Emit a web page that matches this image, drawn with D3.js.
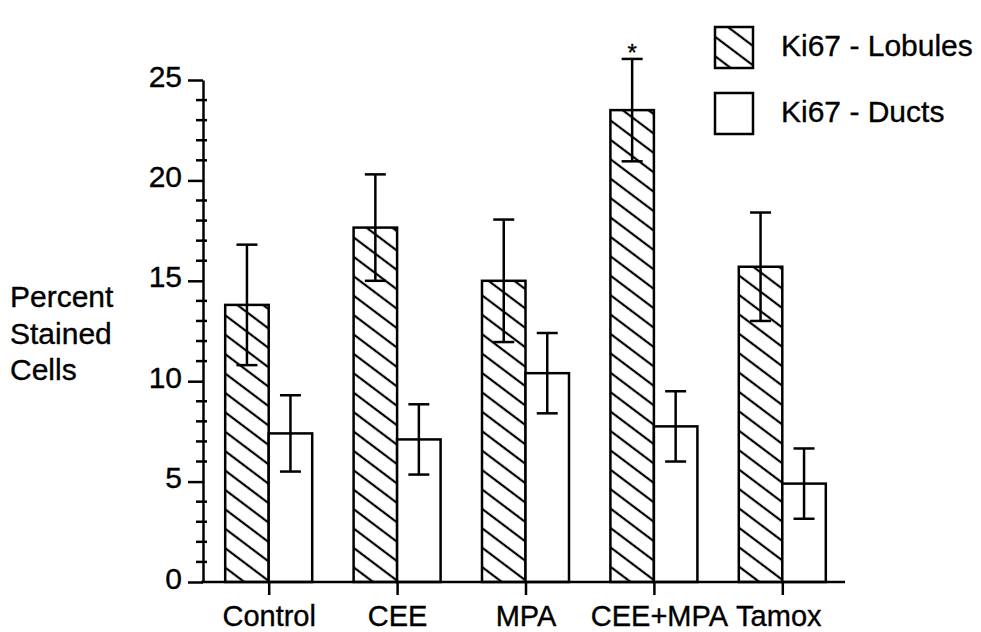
<!DOCTYPE html>
<html>
<head>
<meta charset="utf-8">
<script src="https://cdn.jsdelivr.net/npm/d3@7"></script>
<style>
  html, body { margin: 0; padding: 0; background: #fff; }
  svg { display: block; }
  text { font-family: "Liberation Sans", Arial, Helvetica, sans-serif; fill: #000; stroke: #000; stroke-width: 0.35px; }
</style>
</head>
<body>
<svg id="chart" width="981" height="632"></svg>
<script>
// ---- data ----
const categories = ["Control", "CEE", "MPA", "CEE+MPA", "Tamox"];
const series = ["Ki67 - Lobules", "Ki67 - Ducts"];
const lobules = [13.8, 17.65, 15.0, 23.5, 15.7];
const lobulesErr = [3.0, 2.65, 3.05, 2.55, 2.7];
const ducts = [7.4, 7.1, 10.4, 7.75, 4.9];
const ductsErr = [1.9, 1.75, 2.0, 1.75, 1.75];
const yTicks = [0, 5, 10, 15, 20, 25];
const significant = [false, false, false, true, false];

const svg = d3.select("#chart");
const ink = "#000";

// ---- scales ----
const x = d3.scaleBand().domain(categories).range([205, 847]).padding(0);
const xSub = d3.scaleBand().domain(series).range([-44, 43]).padding(0);
const y = d3.scaleLinear().domain([0, 25]).range([582, 80]);

// ---- hatch pattern ----
const defs = svg.append("defs");
const pat = defs.append("pattern")
  .attr("id", "hatch")
  .attr("patternUnits", "userSpaceOnUse")
  .attr("width", 10).attr("height", 15.5)
  .attr("patternTransform", "rotate(37)");
pat.append("rect").attr("width", 10).attr("height", 15.5).attr("fill", "#fff");
pat.append("line").attr("x1", 0).attr("x2", 10).attr("y1", 7.75).attr("y2", 7.75)
  .attr("stroke", ink).attr("stroke-width", 2.2);

const fills = ["url(#hatch)", "#fff"];
const values = [lobules, ducts];
const errs = [lobulesErr, ductsErr];

// ---- bars ----
const data = [];
categories.forEach((c, i) => {
  series.forEach((s, j) => {
    data.push({ c, s, j, v: values[j][i], e: errs[j][i], sig: significant[i] && j === 0 });
  });
});

const g = svg.append("g");
g.selectAll("rect.bar").data(data).enter().append("rect")
  .attr("class", "bar")
  .attr("x", d => x(d.c) + x.bandwidth() / 2 + xSub(d.s))
  .attr("y", d => y(d.v))
  .attr("width", xSub.bandwidth())
  .attr("height", d => y(0) - y(d.v))
  .attr("fill", d => fills[d.j])
  .attr("stroke", ink).attr("stroke-width", 2.5);

// ---- error bars ----
const cx = d => x(d.c) + x.bandwidth() / 2 + xSub(d.s) + xSub.bandwidth() / 2;
const eg = g.selectAll("g.err").data(data).enter().append("g").attr("class", "err")
  .attr("stroke", ink).attr("stroke-width", 2.5);
eg.append("line").attr("x1", cx).attr("x2", cx)
  .attr("y1", d => y(d.v + d.e)).attr("y2", d => y(d.v - d.e));
eg.append("line").attr("x1", d => cx(d) - 10.5).attr("x2", d => cx(d) + 10.5)
  .attr("y1", d => y(d.v + d.e)).attr("y2", d => y(d.v + d.e));
eg.append("line").attr("x1", d => cx(d) - 10.5).attr("x2", d => cx(d) + 10.5)
  .attr("y1", d => y(d.v - d.e)).attr("y2", d => y(d.v - d.e));

// significance asterisk
g.selectAll("text.sig").data(data.filter(d => d.sig)).enter().append("text")
  .attr("class", "sig")
  .attr("x", cx).attr("y", d => y(d.v + d.e) + 2)
  .attr("text-anchor", "middle")
  .style("font-size", "24px")
  .text("*");

// ---- y axis ----
const yAxisX = 203;
const ya = svg.append("g").attr("transform", `translate(${yAxisX},0)`);
ya.call(d3.axisLeft(y).tickValues(yTicks).tickSize(15).tickSizeOuter(0).tickPadding(6).tickFormat(d3.format("d")));
ya.select(".domain").attr("stroke", ink).attr("stroke-width", 2.5);
ya.selectAll(".tick line").attr("stroke", ink).attr("stroke-width", 2.5);
ya.selectAll(".tick text").style("font-size", "30px").attr("dy", "0.2em")
  .style("font-family", "'Liberation Sans', Arial, sans-serif");
// minor ticks
const minor = d3.range(0, 26).filter(v => v % 5 !== 0);
ya.selectAll("line.minor").data(minor).enter().append("line")
  .attr("class", "minor")
  .attr("x1", -7).attr("x2", 4)
  .attr("y1", d => y(d)).attr("y2", d => y(d))
  .attr("stroke", ink).attr("stroke-width", 2.5);

// ---- x axis ----
const xa = svg.append("g").attr("transform", `translate(0,${y(0)})`);
xa.append("line").attr("x1", yAxisX - 2).attr("x2", 845).attr("y1", 0).attr("y2", 0)
  .attr("stroke", ink).attr("stroke-width", 2.5);
const xt = xa.selectAll("g.xt").data(categories).enter().append("g").attr("class", "xt")
  .attr("transform", d => `translate(${x(d) + x.bandwidth() / 2},0)`);
xt.append("line").attr("y1", 0).attr("y2", 13).attr("stroke", ink).attr("stroke-width", 2.5);
const labelShift = { "CEE+MPA": 5, "Tamox": -4 };
xt.append("text").attr("y", 44).attr("x", d => labelShift[d] || 0)
  .attr("text-anchor", "middle").style("font-size", "29px")
  .text(d => d);

// ---- y title ----
const yTitle = ["Percent", "Stained", "Cells"];
svg.append("g").selectAll("text").data(yTitle).enter().append("text")
  .attr("x", 10).attr("y", (d, i) => 307 + i * 36.5)
  .style("font-size", "30px").text(d => d);

// ---- legend ----
const lg = svg.append("g").attr("transform", "translate(715,27)");
const li = lg.selectAll("g").data(series).enter().append("g")
  .attr("transform", (d, i) => `translate(0,${i * 66})`);
li.append("rect").attr("width", 38).attr("height", 41)
  .attr("fill", (d, i) => fills[i]).attr("stroke", ink).attr("stroke-width", 2.5);
li.append("text").attr("x", 66).attr("y", 29).style("font-size", "30px").text(d => d);
</script>
</body>
</html>
